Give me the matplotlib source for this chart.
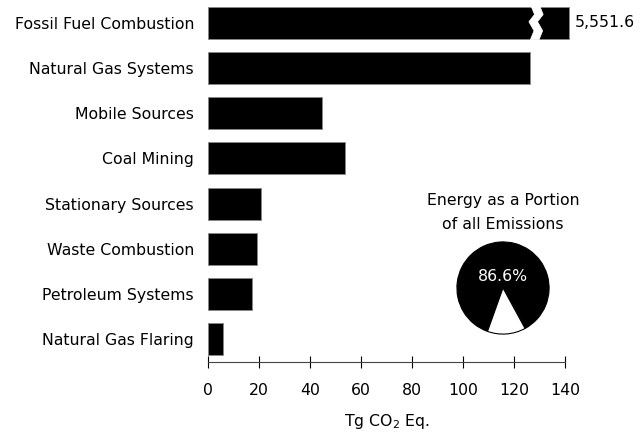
import numpy as np
import matplotlib
matplotlib.use('Agg')
import matplotlib.pyplot as plt
from matplotlib.patches import Polygon

# data
sources = ['Fossil Fuel Combustion', 'Natural Gas Systems', 'Mobile Sources',
           'Coal Mining', 'Stationary Sources', 'Waste Combustion',
           'Petroleum Systems', 'Natural Gas Flaring']
values = [141.3, 126.0, 44.6, 53.6, 20.6, 19.0, 17.2, 5.9]
fossil_label = '5,551.6'
break_at = 126.5
pie_share = [86.6, 13.4]
xticks = [0, 20, 40, 60, 80, 100, 120, 140]

plt.rcParams['font.family'] = ['DejaVu Sans']
fs = 11.3

fig = plt.figure(figsize=(6.44, 4.38), dpi=100)
ax = fig.add_axes([208 / 644, 1 - 362 / 438, 357.4 / 644, 362 / 438])

ypos = np.arange(len(sources))
bars = ax.barh(ypos, values, height=0.71, color='black', edgecolor='#888888',
               linewidth=0.6, clip_on=False)
ax.set_ylim(len(sources) - 0.5, -0.5)
ax.set_xlim(0, 140)

# break marks in the fossil fuel bar (white zigzag gap)
h = 0.71
yt, yb = -h / 2 - 0.02, h / 2 + 0.02
zz = [(0.0, yt), (1.4, -0.18), (-0.8, -0.02), (1.2, 0.18), (-0.2, yb)]
left = [(break_at + dx, y) for dx, y in zz]
right = [(break_at + 3.4 + dx, y) for dx, y in zz]
gap = Polygon(left + right[::-1], closed=True, facecolor='white',
              edgecolor='white', linewidth=0.5, zorder=3, clip_on=False)
ax.add_patch(gap)

ax.text(values[0] + 2.2, 0, fossil_label, va='center', ha='left', fontsize=fs)

ax.set_yticks(ypos)
ax.set_yticklabels(sources, fontsize=fs)
ax.tick_params(axis='y', length=0, pad=10)
ax.set_xticks(xticks)
ax.tick_params(axis='x', direction='inout', length=8, width=0.8,
               labelsize=fs, pad=11)
for s in ['top', 'right', 'left']:
    ax.spines[s].set_visible(False)
ax.spines['bottom'].set_color('#444444')
ax.set_xlabel('Tg CO$_2$ Eq.', fontsize=fs, labelpad=10)

# inset pie
r = 47
cx, cy = 503, 288
pax = fig.add_axes([(cx - r) / 644, 1 - (cy + r) / 438, 2 * r / 644, 2 * r / 438])
pax.pie(pie_share, colors=['black', 'white'], startangle=298.6,
        counterclock=True, radius=1.0,
        wedgeprops=dict(edgecolor='black', linewidth=0.8))
pax.set_xlim(-1.02, 1.02)
pax.set_ylim(-1.02, 1.02)
pax.set_aspect('equal')
pax.text(0, 0.25, '%.1f%%' % pie_share[0], color='white', ha='center',
         va='center', fontsize=fs)
fig.text(cx / 644, 1 - 213 / 438, 'Energy as a Portion\nof all Emissions',
         ha='center', va='center', fontsize=fs, linespacing=1.75)

fig.savefig('out.png', dpi=100)
